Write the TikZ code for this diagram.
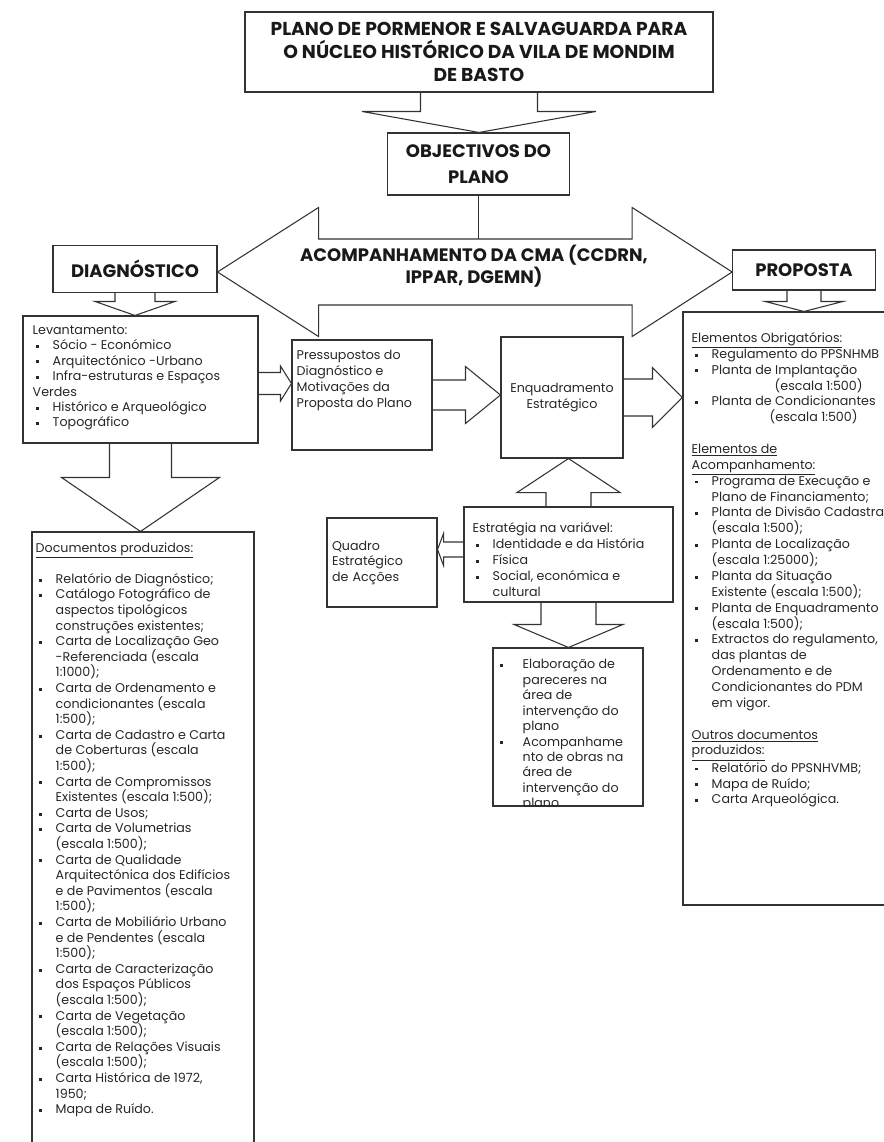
\documentclass[tikz,border=0pt]{standalone}
\usepackage{fontspec}
\setmainfont{Poppins}
\usetikzlibrary{positioning,calc}

% block arrows: base, tip, shaft half width, head half width, head length (px)
\newcommand{\blockdown}[5]{%
  \draw[blockarrow] let \p1=(#1), \p2=(#2) in
    (\x1-#3*0.75pt,\y1) -- (\x1-#3*0.75pt,\y2+#5*0.75pt)
    -- (\x1-#4*0.75pt,\y2+#5*0.75pt) -- (\x1,\y2)
    -- (\x1+#4*0.75pt,\y2+#5*0.75pt) -- (\x1+#3*0.75pt,\y2+#5*0.75pt)
    -- (\x1+#3*0.75pt,\y1);}
\newcommand{\blockup}[5]{%
  \draw[blockarrow] let \p1=(#1), \p2=(#2) in
    (\x1-#3*0.75pt,\y1) -- (\x1-#3*0.75pt,\y2-#5*0.75pt)
    -- (\x1-#4*0.75pt,\y2-#5*0.75pt) -- (\x1,\y2)
    -- (\x1+#4*0.75pt,\y2-#5*0.75pt) -- (\x1+#3*0.75pt,\y2-#5*0.75pt)
    -- (\x1+#3*0.75pt,\y1);}
\newcommand{\blockright}[5]{%
  \draw[blockarrow] let \p1=(#1), \p2=(#2) in
    (\x1,\y1+#3*0.75pt) -- (\x2-#5*0.75pt,\y1+#3*0.75pt)
    -- (\x2-#5*0.75pt,\y1+#4*0.75pt) -- (\x2,\y1)
    -- (\x2-#5*0.75pt,\y1-#4*0.75pt) -- (\x2-#5*0.75pt,\y1-#3*0.75pt)
    -- (\x1,\y1-#3*0.75pt);}
\newcommand{\blockleft}[5]{%
  \draw[blockarrow] let \p1=(#1), \p2=(#2) in
    (\x1,\y1+#3*0.75pt) -- (\x2+#5*0.75pt,\y1+#3*0.75pt)
    -- (\x2+#5*0.75pt,\y1+#4*0.75pt) -- (\x2,\y1)
    -- (\x2+#5*0.75pt,\y1-#4*0.75pt) -- (\x2+#5*0.75pt,\y1-#3*0.75pt)
    -- (\x1,\y1-#3*0.75pt);}
\newcommand{\blockboth}[6]{%
  \draw[blockarrow] let \p1=(#1), \p2=(#2) in
    (\x1,\y1) -- (\x1+#5*0.75pt,\y1+#4*0.75pt) -- (\x1+#5*0.75pt,\y1+#3*0.75pt)
    -- (\x2-#6*0.75pt,\y1+#3*0.75pt) -- (\x2-#6*0.75pt,\y1+#4*0.75pt) -- (\x2,\y1)
    -- (\x2-#6*0.75pt,\y1-#4*0.75pt) -- (\x2-#6*0.75pt,\y1-#3*0.75pt)
    -- (\x1+#5*0.75pt,\y1-#3*0.75pt) -- (\x1+#5*0.75pt,\y1-#4*0.75pt) -- cycle;}

\newcommand{\bul}{\hspace*{2.5pt}\makebox[12.5pt][l]{\raisebox{0.25ex}{\rule{2.2pt}{2.2pt}}}}
\newcommand{\ind}{\hspace*{15pt}}
\newcommand{\ebul}{\makebox[17.25pt][l]{\raisebox{0.25ex}{\rule{2.2pt}{2.2pt}}}}
\newcommand{\eind}{\hspace*{17.25pt}}

\tikzset{
  box/.style={draw=black!80, line width=0.8pt, inner sep=0pt},
  blockarrow/.style={draw=black!80, line width=0.8pt, line join=miter},
  heading/.style={font=\fontsize{13.5}{20}\bfseries\selectfont, align=center, text=black!90},
  bodytext/.style={font=\fontsize{9.5}{11.6}\selectfont, align=left, inner sep=0pt,
    anchor=north west, text=black!85},
  loose/.style={font=\fontsize{9.5}{12}\selectfont},
}

\begin{document}
\begin{tikzpicture}[x=0.75pt, y=-0.75pt]
  \useasboundingbox (0,0) rectangle (884,1142);
  % Title
  \node[box, heading, font=\fontsize{14}{17.5}\bfseries\selectfont,
    minimum width=351pt, minimum height=60pt] (title) at (479,52)
    {PLANO DE PORMENOR E SALVAGUARDA PARA\\O NÚCLEO HISTÓRICO DA VILA DE MONDIM\\DE BASTO};
  % Objectives
  \node[box, heading, minimum width=137pt, minimum height=46.5pt] (obj) at (478.5,164) {OBJECTIVOS DO\\PLANO};
  \blockdown{title.south}{obj.north}{58.5}{117}{21}

  % Diagnostico and Proposta
  \node[box, heading, minimum width=123pt, minimum height=35pt] (diag) at (135,269) {DIAGNÓSTICO};
  \node[box, heading, minimum width=107pt, minimum height=30pt] (prop) at (804,270) {PROPOSTA};

  % CMA
  \blockboth{$(diag.east)+(0,3)$}{prop.west}{33}{64.5}{101}{100}
  \coordinate (cmatop) at (478.5,239);
  \draw[blockarrow] (obj.south) -- (cmatop);
  \node[heading, font=\fontsize{13.5}{17}\bfseries\selectfont] (cma) at (474,266)
    {ACOMPANHAMENTO DA CMA (CCDRN,\\IPPAR, DGEMN)};

  % Levantamento
  \node[box, minimum width=176.25pt, minimum height=95.25pt] (lev) at (140.5,379.5) {};
  \node[bodytext, below right=7.2pt and 7.5pt of lev.north west] (levtext) {%
    Levantamento:\\
    \bul Sócio - Económico\\
    \bul Arquitectónico -Urbano\\
    \bul Infra-estruturas e Espaços\\
    Verdes\\
    \bul Histórico e Arqueológico\\
    \bul Topográfico};
  \blockdown{diag.south}{lev.north}{20}{40}{14}

  % Pressupostos
  \node[box, minimum width=105pt, minimum height=82.5pt] (pres) at (362,395) {};
  \node[bodytext, loose, below right=7.5pt and 3.75pt of pres.north west] (prestext) {%
    Pressupostos do\\Diagnóstico e\\Motivações da\\Proposta do Plano};
  \blockright{$(lev.east)+(0,4)$}{pres.west}{11}{17.5}{11}

  % Enquadramento
  \node[box, font=\fontsize{9.5}{11.6}\selectfont, align=center, text=black!85,
    minimum width=91.5pt, minimum height=90.75pt] (enq) at (562,397.5) {Enquadramento\\Estratégico};
  \blockright{pres.east}{enq.west}{15}{28.5}{35}

  % Proposta elements
  \node[box, minimum width=162.75pt, minimum height=444.75pt] (propbox) at (791.5,608.5) {};
  \blockdown{prop.south}{propbox.north}{17}{39}{10}
  \blockright{enq.east}{propbox.west}{18.5}{30}{30}
  \node[bodytext, font=\fontsize{9.5}{11.9}\selectfont,
    below right=15.5pt and 6.75pt of propbox.north west] (proptext) {%
    \underline{Elementos Obrigatórios:}\\
    \bul Regulamento do PPSNHMB\\
    \bul Planta de Implantação\\
    \hspace*{62.25pt}(escala 1:500)\\
    \bul Planta de Condicionantes\\
    \hspace*{58.5pt}(escala 1:500)\\
    \mbox{}\\
    \underline{Elementos de}\\
    \underline{Acompanhamento:}\\
    \bul Programa de Execução e\\
    \ind Plano de Financiamento;\\
    \bul Planta de Divisão Cadastral\\
    \ind (escala 1:500);\\
    \bul Planta de Localização\\
    \ind (escala 1:25000);\\
    \bul Planta da Situação\\
    \ind Existente (escala 1:500);\\
    \bul Planta de Enquadramento\\
    \ind (escala 1:500);\\
    \bul Extractos do regulamento,\\
    \ind das plantas de\\
    \ind Ordenamento e de\\
    \ind Condicionantes do PDM\\
    \ind em vigor.\\
    \mbox{}\\
    \underline{Outros documentos}\\
    \underline{produzidos:}\\
    \bul Relatório do PPSNHVMB;\\
    \bul Mapa de Ruído;\\
    \bul Carta Arqueológica.};

  % Documentos produzidos
  \node[box, minimum width=166.5pt, minimum height=471pt] (docs) at (143,846) {};
  \blockdown{lev.south}{docs.north}{31}{79}{54}
  \node[bodytext, font=\fontsize{9.5}{11.7}\selectfont,
    below right=8pt and 3pt of docs.north west] (docstext) {%
    \underline{Documentos produzidos:}\\
    \mbox{}\\
    \bul Relatório de Diagnóstico;\\
    \bul Catálogo Fotográfico de\\
    \ind aspectos tipológicos\\
    \ind construções existentes;\\
    \bul Carta de Localização Geo\\
    \ind -Referenciada (escala\\
    \ind 1:1000);\\
    \bul Carta de Ordenamento e\\
    \ind condicionantes (escala\\
    \ind 1:500);\\
    \bul Carta de Cadastro e Carta\\
    \ind de Coberturas (escala\\
    \ind 1:500);\\
    \bul Carta de Compromissos\\
    \ind Existentes (escala 1:500);\\
    \bul Carta de Usos;\\
    \bul Carta de Volumetrias\\
    \ind (escala 1:500);\\
    \bul Carta de Qualidade\\
    \ind Arquitectónica dos Edifícios\\
    \ind e de Pavimentos (escala\\
    \ind 1:500);\\
    \bul Carta de Mobiliário Urbano\\
    \ind e de Pendentes (escala\\
    \ind 1:500);\\
    \bul Carta de Caracterização\\
    \ind dos Espaços Públicos\\
    \ind (escala 1:500);\\
    \bul Carta de Vegetação\\
    \ind (escala 1:500);\\
    \bul Carta de Relações Visuais\\
    \ind (escala 1:500);\\
    \bul Carta Histórica de 1972,\\
    \ind 1950;\\
    \bul Mapa de Ruído.};

  % Estrategia
  \node[box, minimum width=156.75pt, minimum height=71.25pt] (estr) at (568.5,554.5) {};
  \node[bodytext, loose, below right=11.7pt and 6.75pt of estr.north west] (estrtext) {%
    Estratégia na variável:\\
    \bul Identidade e da História\\
    \bul Física\\
    \bul Social, económica e\\
    \ind cultural};
  \blockup{estr.north}{enq.south}{22.5}{51.5}{34}

  % Quadro
  \node[box, font=\fontsize{9.5}{11.6}\selectfont, align=left, text=black!85, text width=75pt,
    inner xsep=3.75pt, minimum height=66.75pt] (quadro) at (382,562.5) {Quadro\\Estratégico\\de Acções};
  \blockleft{$(estr.west)+(0,-5)$}{quadro.east}{7.5}{16}{6}

  % Elaboracao
  \node[box, minimum width=112.5pt, minimum height=118.5pt] (elab) at (568,727) {};
  \blockdown{estr.south}{elab.north}{27.5}{54.5}{23}
  \begin{scope}
    \clip (elab.south west) rectangle (elab.north east);
    \node[bodytext, below right=8.7pt and 5.25pt of elab.north west] (elabtext) {%
      \ebul Elaboração de\\
      \eind pareceres na\\
      \eind área de\\
      \eind intervenção do\\
      \eind plano\\
      \ebul Acompanhame\\
      \eind nto de obras na\\
      \eind área de\\
      \eind intervenção do\\
      \eind plano};
  \end{scope}
\end{tikzpicture}
\end{document}
